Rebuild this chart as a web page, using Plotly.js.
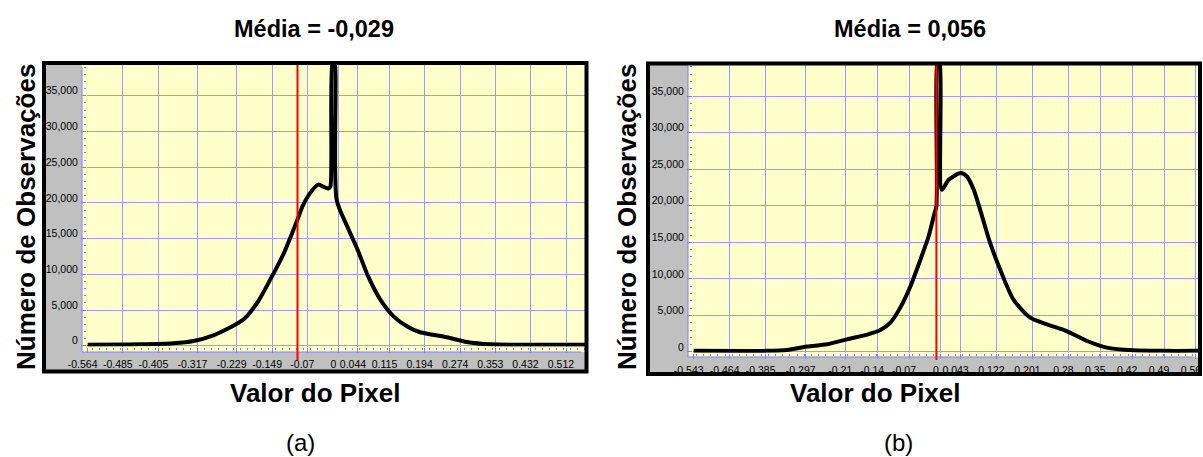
<!DOCTYPE html>
<html>
<head>
<meta charset="utf-8">
<script src="https://cdn.plot.ly/plotly-3.0.1.min.js"></script>
<style>
html, body { margin: 0; padding: 0; background: #ffffff; }
#chart { width: 1203px; height: 457px; }
</style>
</head>
<body>
<div id="chart"></div>
<script>
// ---------- DATA ----------
// Panel (a)
const titleA = "Média = -0,029";
const pixelValueA = [-0.564, -0.445, -0.371, -0.326, -0.281, -0.243, -0.213, -0.182, -0.153, -0.124, -0.092, -0.081, -0.063, -0.045, -0.034, -0.022, -0.018, -0.013, -0.009, -0.004, 0.020, 0.043, 0.067, 0.094, 0.124, 0.155, 0.184, 0.244, 0.289, 0.342, 0.409, 0.557];
const countA = [150, 200, 350, 670, 1470, 2580, 3700, 6080, 9290, 12780, 17670, 19480, 21440, 22560, 22280, 22000, 22280, 40000, 40000, 20460, 16690, 13480, 9710, 6490, 4120, 2700, 1890, 1190, 530, 200, 150, 150];
const xTicksA = [-0.564, -0.485, -0.405, -0.317, -0.229, -0.149, -0.07, 0, 0.044, 0.115, 0.194, 0.274, 0.353, 0.432, 0.512];
const xTickTextA = ["-0.564", "-0.485", "-0.405", "-0.317", "-0.229", "-0.149", "-0.07", "0", "0.044", "0.115", "0.194", "0.274", "0.353", "0.432", "0.512"];
const redLineA = [-0.092];
const xRangeA = [-0.5655, 0.557];

// Panel (b)
const titleB = "Média = 0,056";
const pixelValueB = [-0.543, -0.381, -0.338, -0.294, -0.250, -0.206, -0.162, -0.133, -0.111, -0.089, -0.067, -0.045, -0.027, -0.015, -0.010, -0.007, -0.003, 0.002, 0.017, 0.043, 0.057, 0.072, 0.086, 0.108, 0.130, 0.159, 0.196, 0.233, 0.276, 0.321, 0.364, 0.423, 0.489, 0.565];
const countB = [150, 150, 270, 740, 1050, 1730, 2370, 3000, 4010, 6100, 9000, 12650, 15830, 18790, 19920, 40000, 40000, 22200, 23560, 24470, 24010, 22200, 19470, 14920, 11280, 7190, 4690, 3780, 2860, 1500, 600, 230, 150, 150];
const xTicksB = [-0.543, -0.464, -0.385, -0.297, -0.21, -0.14, -0.07, 0, 0.043, 0.122, 0.201, 0.28, 0.35, 0.42, 0.49, 0.56];
const xTickTextB = ["-0.543", "-0.464", "-0.385", "-0.297", "-0.21", "-0.14", "-0.07", "0", "0.043", "0.122", "0.201", "0.28", "0.35", "0.42", "0.49", "0.56"];
const redLineB = [-0.010];
const xRangeB = [-0.5445, 0.5645];

const yRangeA = [-100, 39300];
const yRangeB = [-100, 39400];
const xTitle = "Valor do Pixel";
const yTitle = "Número de Observações";
const panelLabels = ["(a)", "(b)"];

// ---------- LAYOUT HELPERS ----------
const W = 1203, H = 457;
const px = v => v / W;
const py = v => 1 - v / H;
const FONT = "Arial, 'Liberation Sans', sans-serif";
const GRID = "#9c9cff";
const AXBLUE = "#8080ff";
const YELLOW = "#ffffcc";
const GRAY = "#c0c0c0";

function rect(x0, y0, x1, y1, fill, lineColor, lineWidth, layer) {
  return {
    type: "rect", xref: "paper", yref: "paper",
    x0: px(x0), x1: px(x1), y0: py(y1), y1: py(y0),
    fillcolor: fill, line: { color: lineColor, width: lineWidth }, layer: layer
  };
}
function seg(x0, y0, x1, y1, color, width, layer) {
  return {
    type: "line", xref: "paper", yref: "paper",
    x0: px(x0), x1: px(x1), y0: py(y0), y1: py(y1),
    line: { color: color, width: width }, layer: layer
  };
}

function xAxisCfg(domain, range, tickvals, ticktext) {
  return {
    domain: domain, range: range, tickmode: "array", tickvals: tickvals, ticktext: ticktext,
    showgrid: true, gridcolor: GRID, gridwidth: 1, zeroline: false, showline: false,
    ticks: "outside", ticklen: 5, tickcolor: AXBLUE, tickwidth: 1, tickangle: 0,
    ticklabelshift: -5, ticklabelstandoff: 3,
    minor: { dtick: 0.0158, tick0: 0, ticks: "outside", ticklen: 2, tickcolor: AXBLUE, showgrid: false },
    tickfont: { family: FONT, size: 10.5, color: "#000000" }, fixedrange: true
  };
}
function yAxisCfg(domain, range, anchor) {
  return {
    domain: domain, range: range, anchor: anchor, tick0: 0, dtick: 5000, tickformat: ",d",
    showgrid: true, gridcolor: GRID, gridwidth: 1, zeroline: true, zerolinecolor: GRID, zerolinewidth: 1,
    showline: false, ticks: "outside", ticklen: 5, tickcolor: AXBLUE, tickwidth: 1,
    ticklabelshift: -5, ticklabelstandoff: 1,
    minor: { dtick: 1000, ticks: "outside", ticklen: 2, tickcolor: AXBLUE, showgrid: false },
    tickfont: { family: FONT, size: 10.5, color: "#000000" }, fixedrange: true
  };
}

const traces = [
  { type: "scatter", mode: "lines", x: pixelValueA, y: countA, xaxis: "x", yaxis: "y",
    line: { color: "#000000", width: 4, shape: "spline", smoothing: 0.7 }, hoverinfo: "skip", showlegend: false },
  { type: "scatter", mode: "lines", x: pixelValueB, y: countB, xaxis: "x2", yaxis: "y2",
    line: { color: "#000000", width: 4, shape: "spline", smoothing: 0.7 }, hoverinfo: "skip", showlegend: false }
];

const shapes = [
  rect(44, 63, 586.5, 371.5, GRAY, "rgba(0,0,0,0)", 0, "below"),
  rect(648, 63.5, 1200, 374, GRAY, "rgba(0,0,0,0)", 0, "below"),
  rect(82, 64, 586, 352, YELLOW, "rgba(0,0,0,0)", 0, "below"),
  rect(688, 64, 1198, 357, YELLOW, "rgba(0,0,0,0)", 0, "below"),
  seg(82, 67, 82, 352, AXBLUE, 1, "below"),
  seg(82, 352, 581, 352, AXBLUE, 1, "below"),
  seg(688, 66, 688, 357, AXBLUE, 1, "below"),
  seg(688, 357, 1193, 357, AXBLUE, 1, "below"),
  { type: "line", xref: "x", yref: "paper", x0: redLineA[0], x1: redLineA[0], y0: py(360), y1: py(64),
    line: { color: "#ff0000", width: 2 }, layer: "above" },
  { type: "line", xref: "x2", yref: "paper", x0: redLineB[0], x1: redLineB[0], y0: py(360), y1: py(64),
    line: { color: "#ff0000", width: 2 }, layer: "above" },
  rect(44, 63, 586.5, 371.5, "rgba(0,0,0,0)", "#000000", 4, "above"),
  rect(648, 63.5, 1200, 374, "rgba(0,0,0,0)", "#000000", 4, "above")
];

function ann(text, x, y, size, bold, angle) {
  return {
    xref: "paper", yref: "paper", x: px(x), y: py(y), xanchor: "center", yanchor: "middle",
    text: bold ? "<b>" + text + "</b>" : text, showarrow: false, textangle: angle || 0,
    font: { family: FONT, size: size, color: "#000000" }
  };
}

const annotations = [
  ann(titleA, 314, 29, 23.5, true),
  ann(titleB, 910, 29, 23.5, true),
  ann(yTitle, 26, 217, 26, true, -90),
  ann(yTitle, 627, 217, 26, true, -90),
  ann(xTitle, 315, 393, 26, true),
  ann(xTitle, 875, 393, 26, true),
  ann(panelLabels[0], 300, 442, 24, false),
  ann(panelLabels[1], 898, 442, 24, false)
];

const layout = {
  width: W, height: H,
  margin: { l: 0, r: 0, t: 0, b: 0, pad: 0 },
  paper_bgcolor: "#ffffff", plot_bgcolor: YELLOW,
  showlegend: false, hovermode: false,
  xaxis: Object.assign(xAxisCfg([px(87), px(586)], xRangeA, xTicksA, xTickTextA), { anchor: "y" }),
  yaxis: yAxisCfg([py(346.5), py(65)], yRangeA, "x"),
  xaxis2: Object.assign(xAxisCfg([px(693), px(1198)], xRangeB, xTicksB, xTickTextB), { anchor: "y2" }),
  yaxis2: yAxisCfg([py(352.7), py(64)], yRangeB, "x2"),
  shapes: shapes,
  annotations: annotations
};

Plotly.newPlot("chart", traces, layout, { staticPlot: true, displayModeBar: false });
</script>
</body>
</html>
